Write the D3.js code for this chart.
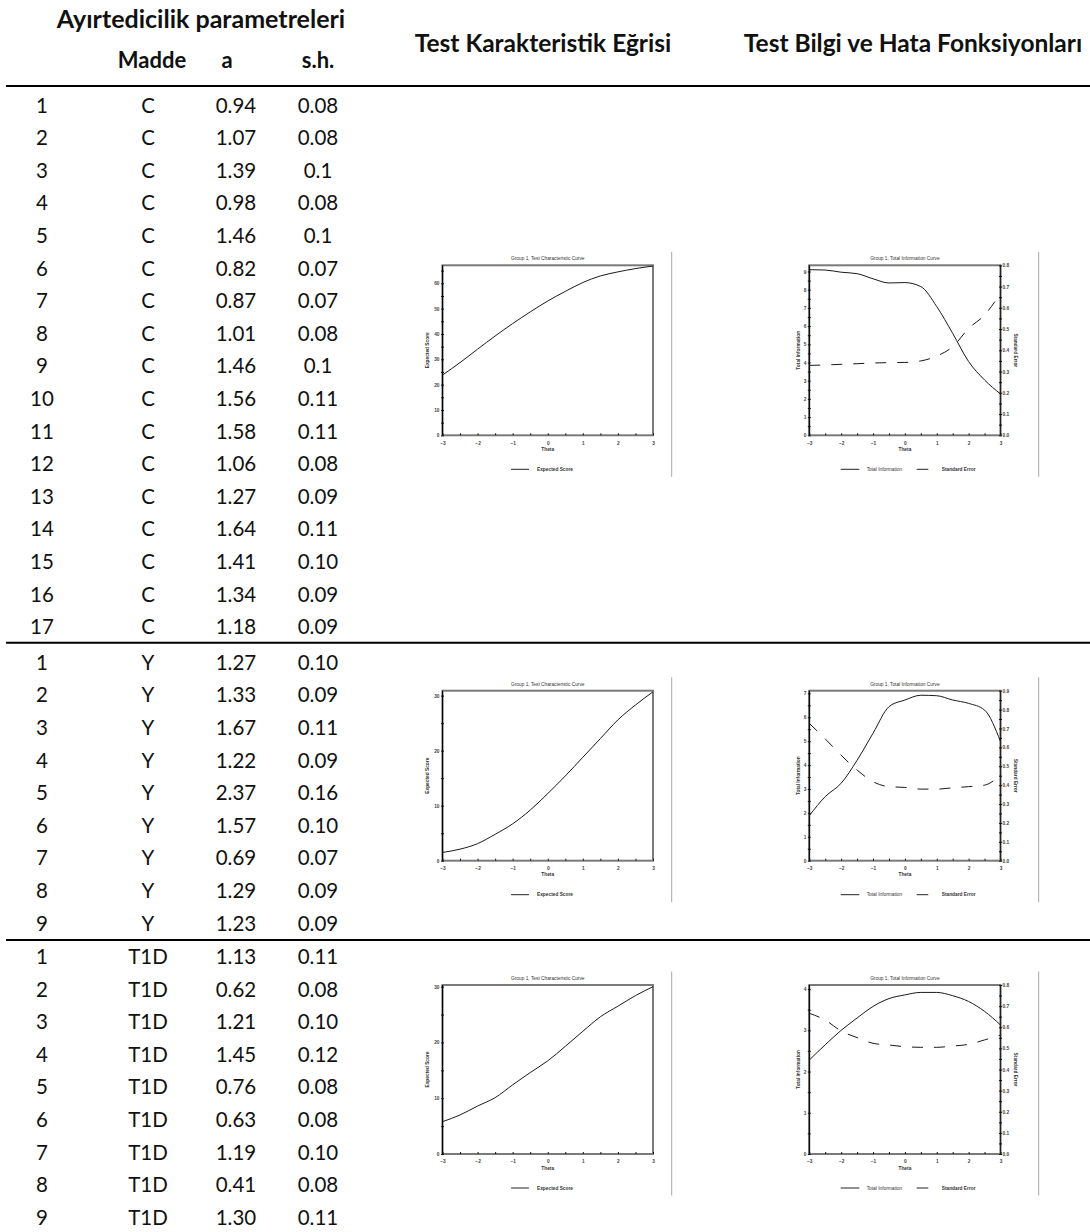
<!DOCTYPE html>
<html><head><meta charset="utf-8">
<script src="https://cdn.jsdelivr.net/npm/d3@7"></script>
<style>body{margin:0;background:#fff}svg{display:block}</style>
</head><body>
<svg id="c" width="1090" height="1232"></svg>
<script>
// ---------- table data ----------
const groupC = "C", groupY = "Y", groupT = "T1D";
const itemsC = [1,2,3,4,5,6,7,8,9,10,11,12,13,14,15,16,17];
const aC  = ["0.94","1.07","1.39","0.98","1.46","0.82","0.87","1.01","1.46","1.56","1.58","1.06","1.27","1.64","1.41","1.34","1.18"];
const shC = ["0.08","0.08","0.1","0.08","0.1","0.07","0.07","0.08","0.1","0.11","0.11","0.08","0.09","0.11","0.10","0.09","0.09"];
const itemsY = [1,2,3,4,5,6,7,8,9];
const aY  = ["1.27","1.33","1.67","1.22","2.37","1.57","0.69","1.29","1.23"];
const shY = ["0.10","0.09","0.11","0.09","0.16","0.10","0.07","0.09","0.09"];
const itemsT = [1,2,3,4,5,6,7,8,9];
const aT  = ["1.13","0.62","1.21","1.45","0.76","0.63","1.19","0.41","1.30"];
const shT = ["0.11","0.08","0.10","0.12","0.08","0.08","0.10","0.08","0.11"];

// ---------- curve data ----------
const theta = [-3,-2.5,-2,-1.5,-1,-0.5,0,0.5,1,1.5,2,2.5,3];
const thetaTicks = [-3,-2,-1,0,1,2,3];
const tccC = [23.8,28.7,34.0,39.2,44.1,48.7,53.0,56.8,60.3,62.9,64.5,65.8,66.8];
const tccY = [1.5,2.1,3.1,4.8,6.7,9.2,12.2,15.4,18.8,22.2,25.6,28.3,30.7];
const tccT = [5.8,7.0,8.6,10.1,12.4,14.6,16.7,19.3,22.0,24.6,26.5,28.4,30.0];
const infoC = [9.10,9.08,8.96,8.88,8.60,8.37,8.39,8.17,7.07,5.60,4.05,3.04,2.27];
const seC   = [0.329,0.331,0.334,0.337,0.340,0.342,0.343,0.350,0.373,0.417,0.503,0.566,0.668];
const infoY = [1.88,2.68,3.24,4.20,5.33,6.44,6.72,6.92,6.90,6.72,6.58,6.30,4.98];
const seY   = [0.727,0.645,0.558,0.480,0.418,0.392,0.388,0.379,0.379,0.386,0.392,0.400,0.453];
const infoT = [2.28,2.65,3.00,3.30,3.58,3.77,3.86,3.92,3.92,3.84,3.70,3.46,3.13];
const seT   = [0.666,0.634,0.582,0.551,0.524,0.516,0.508,0.505,0.505,0.511,0.519,0.540,0.563];
const tccMax = [67.1, 30.9, 30.3];
const infoMax = [9.34, 7.11, 4.1];
const seMax = [0.8, 0.9, 0.8];

// ---------- text ----------
const tableTitle = "Ayırtedicilik parametreleri";
const colHeaders = ["Madde","a","s.h."];
const panelHeaders = ["Test Karakteristik Eğrisi","Test Bilgi ve Hata Fonksiyonları"];

const svg = d3.select("#c");
const TF = "Lato, 'Open Sans', sans-serif";
const CF = "'Liberation Sans', Arial, sans-serif";

// headers
svg.append("text").attr("x",201).attr("y",18).attr("text-anchor","middle").attr("dominant-baseline","central")
  .attr("font-family",TF).attr("font-weight","bold").attr("font-size",25).attr("fill","#111").text(tableTitle);
const hx = [152, 227, 318];
colHeaders.forEach((h,i)=>svg.append("text").attr("x",hx[i]).attr("y",59).attr("text-anchor","middle")
  .attr("dominant-baseline","central").attr("font-family",TF).attr("font-weight","bold").attr("font-size",22).attr("fill","#111").text(h));
const px = [543, 913];
panelHeaders.forEach((h,i)=>svg.append("text").attr("x",px[i]).attr("y",42).attr("text-anchor","middle")
  .attr("dominant-baseline","central").attr("font-family",TF).attr("font-weight","bold").attr("font-size",24.5).attr("fill","#111").text(h));

// rows
function rows(items, grp, a, sh, y0, step){
  items.forEach((n,i)=>{
    const y = y0 + i*step;
    const vals = [n, grp, a[i], sh[i]], xs = [42,148,236,318];
    vals.forEach((v,j)=>svg.append("text").attr("x",xs[j]).attr("y",y).attr("text-anchor","middle")
      .attr("dominant-baseline","central").attr("font-family",TF).attr("font-size",20.5).attr("fill","#111").text(v));
  });
}
rows(itemsC, groupC, aC, shC, 104.6, 32.6);
rows(itemsY, groupY, aY, shY, 661.7, 32.6);
rows(itemsT, groupT, aT, shT, 956, 32.6);
[86, 642.7, 940].forEach(y=>svg.append("line").attr("x1",6).attr("x2",1090).attr("y1",y).attr("y2",y)
  .attr("stroke","#000").attr("stroke-width",2));

// ---------- charts ----------
const pts = (vals)=>theta.map((t,i)=>[t,vals[i]]);
function frame(g, x, y, x0, x1, y0, y1){
  g.append("rect").attr("x",x0).attr("y",y0).attr("width",x1-x0).attr("height",y1-y0)
    .attr("fill","none").attr("stroke","#7a7a7a").attr("stroke-width",2);
  g.append("line").attr("x1",x0).attr("x2",x0).attr("y1",y0).attr("y2",y1).attr("stroke","#000").attr("stroke-width",1.2);
  const xa = g.append("g").attr("transform",`translate(0,${y1})`)
    .call(d3.axisBottom(x).tickValues(thetaTicks).tickSize(0).tickPadding(6).tickFormat(d3.format("d")));
  xa.select(".domain").remove();
  xa.selectAll("text").attr("font-family",CF).attr("font-size",4.8).attr("font-weight","bold").attr("fill","#444");
  const xm = g.append("g").attr("transform",`translate(0,${y1})`)
    .call(d3.axisBottom(x).tickValues(theta).tickSize(-2).tickFormat(""));
  xm.select(".domain").remove();
  xm.selectAll("line").attr("stroke","#111").attr("stroke-width",1);
  g.append("text").attr("x",(x0+x1)/2).attr("y",y1+14).attr("text-anchor","middle").attr("dominant-baseline","central")
    .attr("font-family",CF).attr("font-weight","bold").attr("font-size",4.8).attr("fill","#333").text("Theta");
}
function leftAxis(g, y, x0, major, minor, fmt){
  const a = g.append("g").attr("transform",`translate(${x0},0)`)
    .call(d3.axisLeft(y).tickValues(major).tickSize(0).tickPadding(3).tickFormat(fmt));
  a.select(".domain").remove();
  a.selectAll("text").attr("font-family",CF).attr("font-size",4.8).attr("font-weight","bold").attr("fill","#444");
  const m = g.append("g").attr("transform",`translate(${x0+1.5},0)`)
    .call(d3.axisLeft(y).tickValues(minor).tickSize(3).tickFormat(""));
  m.select(".domain").remove();
  m.selectAll("line").attr("stroke","#111");
}
function rightAxis(g, y, x1, major, minor){
  const a = g.append("g").attr("transform",`translate(${x1},0)`)
    .call(d3.axisRight(y).tickValues(major).tickSize(0).tickPadding(2).tickFormat(d3.format(".1f")));
  a.select(".domain").remove();
  a.selectAll("text").attr("font-family",CF).attr("font-size",4.8).attr("font-weight","bold").attr("fill","#444");
  const m = g.append("g").attr("transform",`translate(${x1-1.5},0)`)
    .call(d3.axisRight(y).tickValues(minor).tickSize(3).tickFormat(""));
  m.select(".domain").remove();
  m.selectAll("line").attr("stroke","#111");
}
function range(a,b,s){const r=[];for(let v=a;v<=b+1e-9;v+=s)r.push(+v.toFixed(4));return r;}

function tccChart(vals, ymax, y0, y1){
  const x0=442.5, x1=653;
  const g = svg.append("g");
  const x = d3.scaleLinear().domain([-3,3]).range([x0,x1]);
  const y = d3.scaleLinear().domain([0,ymax]).range([y1,y0]);
  g.append("text").attr("x",(x0+x1)/2).attr("y",y0-6.5).attr("text-anchor","middle").attr("dominant-baseline","central")
    .attr("font-family",CF).attr("font-size",4.8).attr("fill","#333").text("Group 1, Test Characteristic Curve");
  frame(g,x,y,x0,x1,y0,y1);
  const maj = range(0, Math.floor(ymax/10)*10, 10), mn = range(0, ymax, 5);
  leftAxis(g,y,x0,maj,mn,d3.format("d"));
  g.append("text").attr("transform",`translate(${x0-15},${(y0+y1)/2}) rotate(-90)`).attr("text-anchor","middle")
    .attr("dominant-baseline","central").attr("font-family",CF).attr("font-weight","bold").attr("font-size",4.8).attr("fill","#333").text("Expected Score");
  g.append("path").datum(pts(vals)).attr("fill","none").attr("stroke","#1a1a1a").attr("stroke-width",1)
    .attr("d",d3.line().x(d=>x(d[0])).y(d=>y(d[1])).curve(d3.curveMonotoneX));
  const ly = y1+34;
  g.append("line").attr("x1",x0+68.5).attr("x2",x0+86.5).attr("y1",ly).attr("y2",ly).attr("stroke","#222").attr("stroke-width",1);
  g.append("text").attr("x",x0+94.5).attr("y",ly).attr("dominant-baseline","central").attr("font-family",CF).attr("font-weight","bold")
    .attr("font-size",4.8).attr("fill","#333").text("Expected Score");
  g.append("line").attr("x1",671.7).attr("x2",671.7).attr("y1",y0-13.5).attr("y2",y1+41.5).attr("stroke","#a8a8a8").attr("stroke-width",1);
}
function infoChart(info, se, imax, smax, y0, y1){
  const x0=809.3, x1=1000.5;
  const g = svg.append("g");
  const x = d3.scaleLinear().domain([-3,3]).range([x0,x1]);
  const yi = d3.scaleLinear().domain([0,imax]).range([y1,y0]);
  const ys = d3.scaleLinear().domain([0,smax]).range([y1,y0]);
  g.append("text").attr("x",(x0+x1)/2).attr("y",y0-6.5).attr("text-anchor","middle").attr("dominant-baseline","central")
    .attr("font-family",CF).attr("font-size",4.8).attr("fill","#333").text("Group 1, Total Information Curve");
  frame(g,x,yi,x0,x1,y0,y1);
  g.append("line").attr("x1",x1).attr("x2",x1).attr("y1",y0).attr("y2",y1).attr("stroke","#222").attr("stroke-width",1.2);
  leftAxis(g,yi,x0,range(0,Math.floor(imax),1),range(0,imax,0.5),d3.format("d"));
  rightAxis(g,ys,x1,range(0,smax,0.1),range(0,smax,0.05));
  g.append("text").attr("transform",`translate(${x0-11},${(y0+y1)/2}) rotate(-90)`).attr("text-anchor","middle")
    .attr("dominant-baseline","central").attr("font-family",CF).attr("font-weight","bold").attr("font-size",4.8).attr("fill","#333").text("Total Information");
  g.append("text").attr("transform",`translate(${x1+15},${(y0+y1)/2}) rotate(90)`).attr("text-anchor","middle")
    .attr("dominant-baseline","central").attr("font-family",CF).attr("font-weight","bold").attr("font-size",4.8).attr("fill","#333").text("Standard Error");
  g.append("path").datum(pts(info)).attr("fill","none").attr("stroke","#1a1a1a").attr("stroke-width",1)
    .attr("d",d3.line().x(d=>x(d[0])).y(d=>yi(d[1])).curve(d3.curveMonotoneX));
  g.append("path").datum(pts(se)).attr("fill","none").attr("stroke","#1a1a1a").attr("stroke-width",1)
    .attr("stroke-dasharray","11,11")
    .attr("d",d3.line().x(d=>x(d[0])).y(d=>ys(d[1])).curve(d3.curveMonotoneX));
  const ly = y1+34;
  g.append("line").attr("x1",x0+31.4).attr("x2",x0+50).attr("y1",ly).attr("y2",ly).attr("stroke","#222").attr("stroke-width",1);
  g.append("text").attr("x",x0+57.4).attr("y",ly).attr("dominant-baseline","central").attr("font-family",CF)
    .attr("font-size",4.8).attr("fill","#333").text("Total Information");
  g.append("line").attr("x1",x0+107.4).attr("x2",x0+119).attr("y1",ly).attr("y2",ly).attr("stroke","#222").attr("stroke-width",1);
  g.append("text").attr("x",x0+132.4).attr("y",ly).attr("dominant-baseline","central").attr("font-family",CF).attr("font-weight","bold")
    .attr("font-size",4.8).attr("fill","#333").text("Standard Error");
  g.append("line").attr("x1",1038.7).attr("x2",1038.7).attr("y1",y0-13.5).attr("y2",y1+41.5).attr("stroke","#a8a8a8").attr("stroke-width",1);
}
const panelY = [[265.3,435.3],[690.7,860.7],[985,1154]];
tccChart(tccC, tccMax[0], ...panelY[0]);
tccChart(tccY, tccMax[1], ...panelY[1]);
tccChart(tccT, tccMax[2], ...panelY[2]);
infoChart(infoC, seC, infoMax[0], seMax[0], ...panelY[0]);
infoChart(infoY, seY, infoMax[1], seMax[1], ...panelY[1]);
infoChart(infoT, seT, infoMax[2], seMax[2], ...panelY[2]);
</script>
</body></html>
